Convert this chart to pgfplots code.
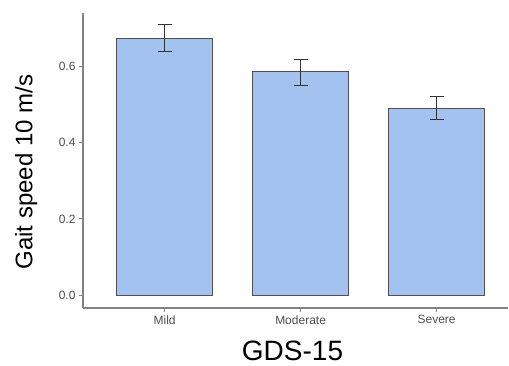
\documentclass[border=0pt]{standalone}
\usepackage{pgfplots}
\pgfplotsset{compat=1.18}
\usepackage{fontspec}
\setmainfont{Liberation Sans}
\definecolor{barfill}{RGB}{164,194,240}
\definecolor{baredge}{RGB}{80,80,80}
\definecolor{axgray}{RGB}{130,130,130}
\definecolor{ticktext}{RGB}{77,77,77}
\begin{document}
\begin{tikzpicture}
\useasboundingbox (-83pt,-57pt) rectangle (426pt,308pt);
\begin{axis}[
  scale only axis,
  width=425pt, height=295.5pt,
  xmin=0.4, xmax=3.525,
  ymin=-0.034, ymax=0.742,
  axis x line*=bottom, axis y line*=left,
  axis line style={draw=axgray, line width=1.3pt},
  xtick={1,2,3},
  xticklabels={Mild,Moderate,Severe},
  ytick={0,0.2,0.4,0.6},
  yticklabels={0.0,0.2,0.4,0.6},
  tick align=outside,
  major tick length=4pt,
  tick style={draw=axgray, line width=1.1pt},
  ticklabel style={font=\fontsize{12}{14}\selectfont, text=ticktext},
  xlabel={GDS-15},
  ylabel={Gait speed 10 m/s},
  xlabel style={font=\fontsize{28}{32}\selectfont, at={(axis description cs:0.493,-0.176)}, anchor=base},
  ylabel style={font=\fontsize{24}{28}\selectfont, at={(axis description cs:-0.134,0.46)}, anchor=center},
  clip=false,
]
\addplot[ybar, bar width=0.706, fill=barfill, draw=baredge, line width=0.9pt]
  coordinates {(1,0.674) (2,0.586) (3,0.491)};
\addplot[draw=none, mark=none,
  error bars/.cd, y dir=both, y explicit,
  error bar style={line width=0.8pt, draw=black!80},
  error mark options={rotate=90, mark size=7pt, line width=0.8pt, draw=black!80}]
  coordinates {(1,0.675) +- (0,0.035) (2,0.585) +- (0,0.035) (3,0.491) +- (0,0.030)};
\end{axis}
\end{tikzpicture}
\end{document}
